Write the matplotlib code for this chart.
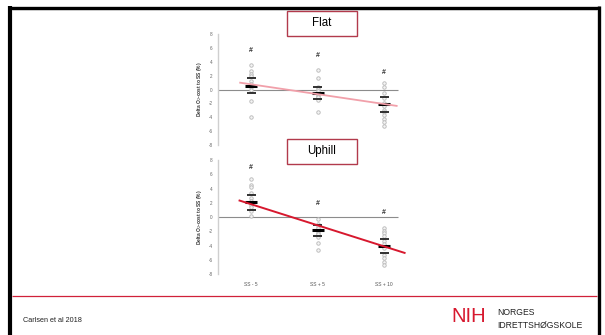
import matplotlib
matplotlib.use("Agg")
import matplotlib.pyplot as plt
from matplotlib.lines import Line2D
from matplotlib.patches import Rectangle
import numpy as np

plt.rcParams['font.family'] = ['Liberation Sans', 'DejaVu Sans']

# ---------------- data ----------------
categories = ["SS - 5", "SS + 5", "SS + 10"]
yticks = [-8, -6, -4, -2, 0, 2, 4, 6, 8]

flat_points = [
    [3.6, 2.6, 2.2, 1.9, 1.2, 0.8, 0.3, -0.1, -1.7, -3.9],
    [2.8, 1.6, 0.4, 0.1, -0.2, -0.6, -0.9, -1.1, -1.5, -3.3],
    [0.95, 0.35, -0.5, -1.2, -1.9, -2.4, -3.0, -3.2, -3.7, -4.2, -4.7, -5.3],
]
flat_mean = [0.55, -0.5, -2.1]
flat_sd = [1.05, 0.85, 1.08]
flat_hash = [5.6, 4.9, 2.5]
flat_trend_x = [0.82, 3.2]
flat_trend_y = [1.0, -2.38]

up_points = [
    [5.3, 4.5, 4.2, 3.4, 2.6, 2.3, 1.7, 1.4, 0.8, 0.1],
    [-0.3, -1.0, -1.3, -1.6, -2.0, -2.2, -2.4, -2.8, -3.6, -4.6],
    [-1.6, -1.9, -2.2, -2.6, -3.4, -3.8, -4.4, -5.3, -5.8, -6.3, -6.8],
]
up_mean = [2.05, -1.85, -4.05]
up_sd = [1.07, 0.75, 1.0]
up_hash = [6.9, 1.9, 0.6]
up_trend_x = [0.81, 3.32]
up_trend_y = [2.35, -5.08]

# ---------------- figure ----------------
W, H = 605, 335
fig = plt.figure(figsize=(W / 100, H / 100), dpi=100)
fig.patch.set_facecolor('white')

def px_axes(x0, y0, x1, y1):
    return fig.add_axes([x0 / W, 1 - y1 / H, (x1 - x0) / W, (y1 - y0) / H])

XMIN, XMAX = 0.5, 3.32
ax_left = 218
ax_right = ax_left + (XMAX - XMIN) * 66.5

ax_top = px_axes(ax_left, 34, ax_right, 145)
ax_bot = px_axes(ax_left, 160, ax_right, 274)

def draw_panel(ax, points, mean, sd, hashes, tx, ty, trend_color, show_x):
    ax.set_xlim(XMIN, XMAX)
    ax.set_ylim(-8, 8)
    ax.set_facecolor('none')
    for s in ['top', 'right', 'bottom']:
        ax.spines[s].set_visible(False)
    ax.spines['left'].set_color('#cfcfcf')
    ax.spines['left'].set_linewidth(1.0)
    ax.hlines(0, XMIN, 3.21, color='#8c8c8c', lw=0.8, zorder=1)
    ax.set_yticks(yticks)
    ax.set_yticklabels([str(t) for t in yticks])
    ax.tick_params(axis='y', length=0, labelsize=3.3, labelcolor='#666666', pad=4)
    if show_x:
        ax.set_xticks([1, 2, 3])
        ax.set_xticklabels(categories)
        ax.tick_params(axis='x', length=0, labelsize=3.5, labelcolor='#555555', pad=6)
    else:
        ax.set_xticks([])
    ax.set_ylabel(r'Delta O$_2$-cost to SS (%)', fontsize=3.5, fontweight='bold', color='#333333')
    ax.yaxis.set_label_coords(-0.075, 0.5)
    for i, pts in enumerate(points):
        xi = np.full(len(pts), i + 1)
        ax.plot(xi, pts, 'o', ms=2.5, mfc='#f4f4f4', mec='#b8b8b8', mew=0.6, zorder=2, ls='none')
        m, s = mean[i], sd[i]
        ax.hlines([m + s, m - s], i + 1 - 0.07, i + 1 + 0.07, color='#222222', lw=1.3, zorder=3)
        ax.hlines(m, i + 1 - 0.09, i + 1 + 0.09, color='black', lw=2.2, zorder=4)
        ax.text(i + 1, hashes[i], '#', ha='center', va='center', fontsize=5,
                fontweight='bold', color='#333333', zorder=5)
    ax.plot(tx, ty, color=trend_color, lw=1.4 if show_x else 1.3, zorder=6,
            clip_on=False, solid_capstyle='butt')

draw_panel(ax_top, flat_points, flat_mean, flat_sd, flat_hash,
           flat_trend_x, flat_trend_y, '#f1a0aa', False)
draw_panel(ax_bot, up_points, up_mean, up_sd, up_hash,
           up_trend_x, up_trend_y, '#d7182e', True)

# ---------------- title boxes ----------------
def title_box(x0, y0, x1, y1, label):
    r = Rectangle((x0 / W, 1 - y1 / H), (x1 - x0) / W, (y1 - y0) / H,
                  transform=fig.transFigure, facecolor='white', edgecolor='#b23a4c',
                  lw=1.0, zorder=10)
    fig.patches.append(r)
    fig.text((x0 + x1) / 2 / W, 1 - (y0 + y1) / 2 / H, label, ha='center', va='center',
             fontsize=8.3, color='black', zorder=11)

title_box(287, 11, 357, 36, 'Flat')
title_box(287, 139, 357, 164, 'Uphill')

# ---------------- frame & footer ----------------
def fig_line(xs, ys, color, lw):
    fig.add_artist(Line2D([x / W for x in xs], [1 - y / H for y in ys],
                          transform=fig.transFigure, color=color, lw=lw,
                          solid_capstyle='butt'))

fig_line([8, 600], [7.5, 7.5], 'black', 2.4)
fig_line([10, 10], [6, 335], 'black', 3.0)
fig_line([598.5, 598.5], [6, 335], 'black', 2.4)
fig_line([12, 597], [10.2, 10.2], '#c8c8c8', 0.6)
fig_line([12, 597], [296, 296], '#d0213a', 0.9)

fig.text(23 / W, 1 - 320 / H, 'Carlsen et al 2018', ha='left', va='center',
         fontsize=5.2, color='#222222')
fig.text(451 / W, 1 - 316 / H, 'NIH', ha='left', va='center', fontsize=14.5,
         color='#d7182e', family=['Liberation Sans', 'DejaVu Sans'])
fig.text(497 / W, 1 - 312.5 / H, 'NORGES', ha='left', va='center',
         fontsize=6.2, color='#222222')
fig.text(497 / W, 1 - 325.5 / H, 'IDRETTSHØGSKOLE', ha='left', va='center',
         fontsize=6.2, color='#222222')

fig.savefig('out.png', dpi=100, facecolor='white')
